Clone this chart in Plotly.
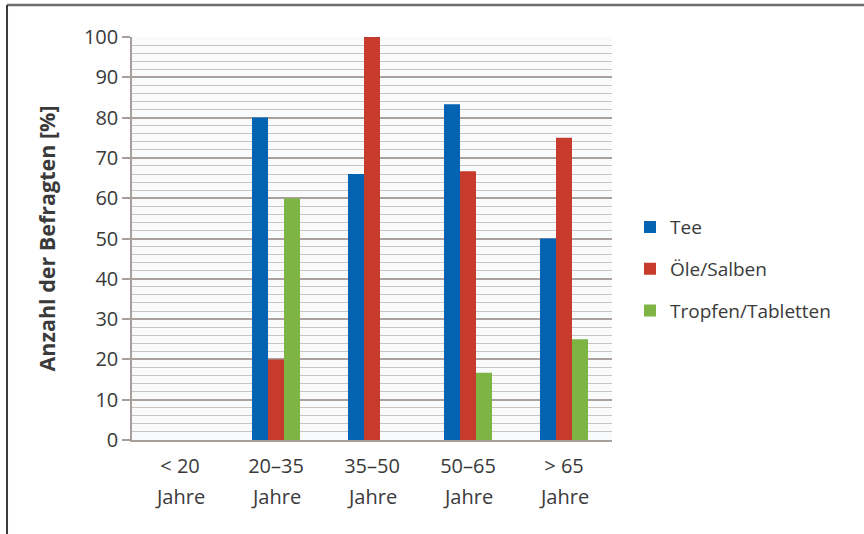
import plotly.graph_objects as go

categories = ["< 20", "20–35", "35–50", "50–65", "> 65"]
sub_label = "Jahre"
series_names = ["Tee", "Öle/Salben", "Tropfen/Tabletten"]
tee = [0, 80, 66, 83.3, 50]
oele = [0, 20, 100, 66.7, 75]
tropfen = [0, 60, 0, 16.7, 25]
colors = ["#0563b3", "#c63b2b", "#7db443"]
y_ticks = list(range(0, 101, 10))

FONT = "Open Sans"
TXT = "#3a3a3a"

fig = go.Figure()
for i, (name, vals) in enumerate(zip(series_names, [tee, oele, tropfen])):
    fig.add_trace(go.Bar(
        x=categories, y=vals, name=name, marker_color=colors[i],
        marker_line_width=0, legendgroup=name,
    ))

fig.update_layout(
    width=864, height=534,
    margin=dict(l=132, r=252, t=37, b=94),
    paper_bgcolor="white", plot_bgcolor="#f8fafc",
    barmode="group", bargap=0.5, bargroupgap=0,
    font=dict(family=FONT, size=20, color=TXT),
    showlegend=True,
    legend=dict(x=1.0375, y=0.424, xanchor="left", yanchor="middle",
                tracegroupgap=14, font=dict(size=19, color=TXT),
                itemwidth=30, bgcolor="rgba(0,0,0,0)"),
    xaxis=dict(
        showline=True, linecolor="#a89e9a", linewidth=1.5,
        ticks="outside", ticklen=7, tickcolor="rgba(0,0,0,0)", showgrid=False,
        tickfont=dict(size=20, color=TXT),
    ),
    yaxis=dict(
        range=[0, 100], tickvals=y_ticks, showline=True, linecolor="#a89e9a", linewidth=1.5,
        ticks="outside", ticklen=8, tickcolor="#a89e9a", tickwidth=1.5,
        showgrid=True, gridcolor="#aaa09c", gridwidth=1.5,
        minor=dict(dtick=2, showgrid=True, gridcolor="#cbc5c2", gridwidth=1.2),
        zeroline=False, tickfont=dict(size=20, color=TXT),
        title=dict(text="<b>Anzahl der Befragten [%]</b>", font=dict(size=21.5, color=TXT), standoff=22),
    ),
)

for c in categories:
    fig.add_annotation(x=c, y=-0.1414, xref="x", yref="paper", text=sub_label,
                       showarrow=False, yanchor="middle", font=dict(size=20, color=TXT))

# frame lines (top and left)
fig.add_shape(type="line", xref="paper", yref="paper", x0=-0.2604, x1=1.6, y0=1.0794, y1=1.0794,
              line=dict(color="#6e6e6e", width=2.5))
fig.add_shape(type="line", xref="paper", yref="paper", x0=-0.2604, x1=-0.2604, y0=1.0794, y1=-0.3,
              line=dict(color="#3a3a3a", width=2))

fig.write_html("out.html")
